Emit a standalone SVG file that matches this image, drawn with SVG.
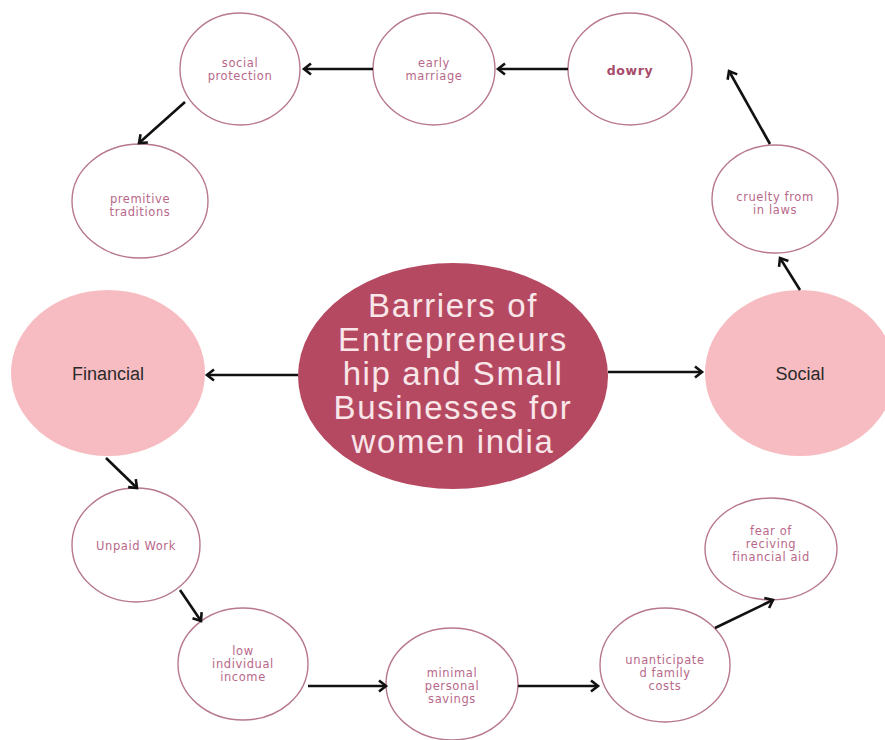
<svg xmlns="http://www.w3.org/2000/svg" width="885" height="740" viewBox="0 0 885 740">
<defs>
<marker id="ah" markerUnits="userSpaceOnUse" markerWidth="14" markerHeight="14" refX="10" refY="7" orient="auto">
<path d="M3,1.5 L10,7 L3,12.5" fill="none" stroke="#111" stroke-width="2.6" stroke-linejoin="miter"/>
</marker>
<style>
.n{fill:#fff;stroke:#b8788e;stroke-width:1.4}
.t{font-family:"DejaVu Sans",sans-serif;font-size:11.5px;letter-spacing:0.6px;fill:#b8688a;text-anchor:middle}
.b{font-weight:bold;fill:#a84a6a;font-size:12.5px}
.m{fill:#f7bcc1;stroke:none}
.mt{font-family:"Liberation Sans",Arial,sans-serif;font-size:18px;fill:#2a2a2a;text-anchor:middle}
.c{fill:#b64962}
.ct{font-family:"Liberation Sans",Arial,sans-serif;font-size:33px;letter-spacing:1.6px;fill:#f9e6e9;text-anchor:middle}
.e{fill:none;stroke:#111;stroke-width:2.6;marker-end:url(#ah)}
</style>
</defs>
<rect width="885" height="740" fill="#fff"/>
<g id="center">
<ellipse class="c" cx="453" cy="376" rx="155" ry="113"/>
<text class="ct" x="453" y="317">Barriers of</text>
<text class="ct" x="453" y="351">Entrepreneurs</text>
<text class="ct" x="453" y="385">hip and Small</text>
<text class="ct" x="453" y="419">Businesses for</text>
<text class="ct" x="453" y="453">women india</text>
</g>
<g id="financial">
<ellipse class="m" cx="108" cy="373" rx="97" ry="83"/>
<text class="mt" x="108" y="380">Financial</text>
</g>
<g id="social">
<ellipse class="m" cx="800" cy="373" rx="95" ry="83"/>
<text class="mt" x="800" y="380">Social</text>
</g>
<g id="social-protection">
<ellipse class="n" cx="240" cy="69" rx="60" ry="56"/>
<text class="t" x="240" y="67">social</text>
<text class="t" x="240" y="80">protection</text>
</g>
<g id="early-marriage">
<ellipse class="n" cx="434" cy="69" rx="61" ry="56"/>
<text class="t" x="434" y="67">early</text>
<text class="t" x="434" y="80">marriage</text>
</g>
<g id="dowry">
<ellipse class="n" cx="630" cy="69" rx="62" ry="56"/>
<text class="t b" x="630" y="75">dowry</text>
</g>
<g id="premitive-traditions">
<ellipse class="n" cx="140" cy="201" rx="68" ry="57"/>
<text class="t" x="140" y="203">premitive</text>
<text class="t" x="140" y="216">traditions</text>
</g>
<g id="cruelty">
<ellipse class="n" cx="775" cy="199" rx="63" ry="54"/>
<text class="t" x="775" y="201">cruelty from</text>
<text class="t" x="775" y="214">in laws</text>
</g>
<g id="unpaid-work">
<ellipse class="n" cx="136" cy="545" rx="64" ry="57"/>
<text class="t" x="136" y="550">Unpaid Work</text>
</g>
<g id="low-income">
<ellipse class="n" cx="243" cy="664" rx="65" ry="56"/>
<text class="t" x="243" y="655">low</text>
<text class="t" x="243" y="668">individual</text>
<text class="t" x="243" y="681">income</text>
</g>
<g id="minimal-savings">
<ellipse class="n" cx="452" cy="684" rx="66" ry="56"/>
<text class="t" x="452" y="677">minimal</text>
<text class="t" x="452" y="690">personal</text>
<text class="t" x="452" y="703">savings</text>
</g>
<g id="unanticipated">
<ellipse class="n" cx="665" cy="665" rx="65" ry="57"/>
<text class="t" x="665" y="664">unanticipate</text>
<text class="t" x="665" y="677">d family</text>
<text class="t" x="665" y="690">costs</text>
</g>
<g id="fear">
<ellipse class="n" cx="771" cy="549" rx="66" ry="51"/>
<text class="t" x="771" y="535">fear of</text>
<text class="t" x="771" y="548">reciving</text>
<text class="t" x="771" y="561">financial aid</text>
</g>
<g id="connectors">
<path class="e" d="M298,375 L207,375"/>
<path class="e" d="M608,372 L702,372"/>
<path class="e" d="M800,290 L780,258"/>
<path class="e" d="M770,144 L729,71"/>
<path class="e" d="M568,69 L498,69"/>
<path class="e" d="M373,69 L304,69"/>
<path class="e" d="M185,102 L139,143"/>
<path class="e" d="M106,458 L137,488"/>
<path class="e" d="M180,590 L201,621"/>
<path class="e" d="M308,686 L386,686"/>
<path class="e" d="M518,686 L598,686"/>
<path class="e" d="M715,628 L773,600"/>
</g>
</svg>
